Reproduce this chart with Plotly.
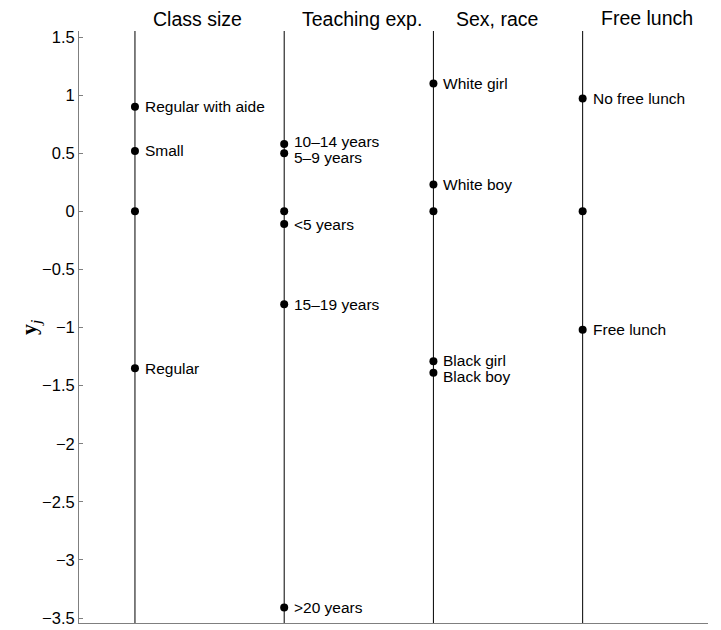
import plotly.graph_objects as go

groups = ["Class size", "Teaching exp.", "Sex, race", "Free lunch"]

class_labels = ["Regular with aide", "Small", "", "Regular"]
class_vals = [0.90, 0.52, 0.0, -1.35]

teach_labels = ["10–14 years", "5–9 years", "", "<5 years", "15–19 years", ">20 years"]
teach_vals = [0.58, 0.50, 0.0, -0.11, -0.80, -3.41]

sex_labels = ["White girl", "White boy", "", "Black girl", "Black boy"]
sex_vals = [1.10, 0.23, 0.0, -1.29, -1.39]

lunch_labels = ["No free lunch", "", "Free lunch"]
lunch_vals = [0.97, 0.0, -1.02]

ytick_vals = [-3.5, -3, -2.5, -2, -1.5, -1, -0.5, 0, 0.5, 1, 1.5]
ytick_text = ["\u22123.5", "\u22123", "\u22122.5", "\u22122", "\u22121.5", "\u22121",
              "\u22120.5", "0", "0.5", "1", "1.5"]

series = [(class_labels, class_vals), (teach_labels, teach_vals),
          (sex_labels, sex_vals), (lunch_labels, lunch_vals)]

# small vertical nudges (px) for label text so close labels don't collide
label_nudge = [
    [0, 0, 0, 0],
    [2, -4, 0, 0, 0, 0],
    [0, 0, 0, 1, -4],
    [0, 0, 0],
]

FONT = "Liberation Sans, Arial, Helvetica, sans-serif"

def esc(s):
    return s.replace("<", "&lt;").replace(">", "&gt;")

fig = go.Figure()
for i, (labs, vals) in enumerate(series):
    xpos = i + 1
    fig.add_shape(type="line", xref="x", yref="paper", x0=xpos, x1=xpos, y0=0, y1=1,
                  line=dict(color="black", width=1), layer="below")
    fig.add_trace(go.Scatter(
        x=[xpos] * len(vals), y=vals, mode="markers",
        marker=dict(color="black", size=8),
        showlegend=False, hoverinfo="skip", cliponaxis=False))
    for j, (lab, v) in enumerate(zip(labs, vals)):
        if not lab:
            continue
        fig.add_annotation(x=xpos, y=v, xref="x", yref="y", text=esc(lab),
                           showarrow=False, xanchor="left", yanchor="middle",
                           xshift=8, yshift=label_nudge[i][j],
                           font=dict(family=FONT, size=15.5, color="black"))

title_shift = [16, 16, 21, 16]
title_y = [1.0203, 1.0203, 1.0203, 1.0228]
for i, g in enumerate(groups):
    fig.add_annotation(x=i + 1, xref="x", y=title_y[i], yref="paper", text=g,
                       showarrow=False, xanchor="left", yanchor="middle",
                       xshift=title_shift[i],
                       font=dict(family=FONT, size=19.5, color="black"))

fig.add_annotation(x=-0.078, xref="paper", y=0.5, yref="paper",
                   text="<b>y</b><sub><i>j</i></sub>", showarrow=False, textangle=-90,
                   xanchor="center", yanchor="middle",
                   font=dict(family="Liberation Serif, serif", size=22, color="black"))

fig.update_xaxes(range=[0.625, 4.84], showgrid=False, zeroline=False, showticklabels=False,
                 showline=True, linecolor="#7f7f7f", linewidth=1, ticks="", mirror=False,
                 automargin=False)
fig.update_yaxes(range=[-3.543, 1.552], showgrid=False, zeroline=False,
                 tickvals=ytick_vals, ticktext=ytick_text, ticks="inside", ticklen=4,
                 tickcolor="#7f7f7f", showline=True, linecolor="#7f7f7f", linewidth=1,
                 automargin=False,
                 tickfont=dict(family=FONT, size=16.5, color="black"))

fig.update_layout(width=713, height=622, margin=dict(l=71, r=13, t=23, b=7),
                  plot_bgcolor="white", paper_bgcolor="white")

fig.write_html("out.html")
